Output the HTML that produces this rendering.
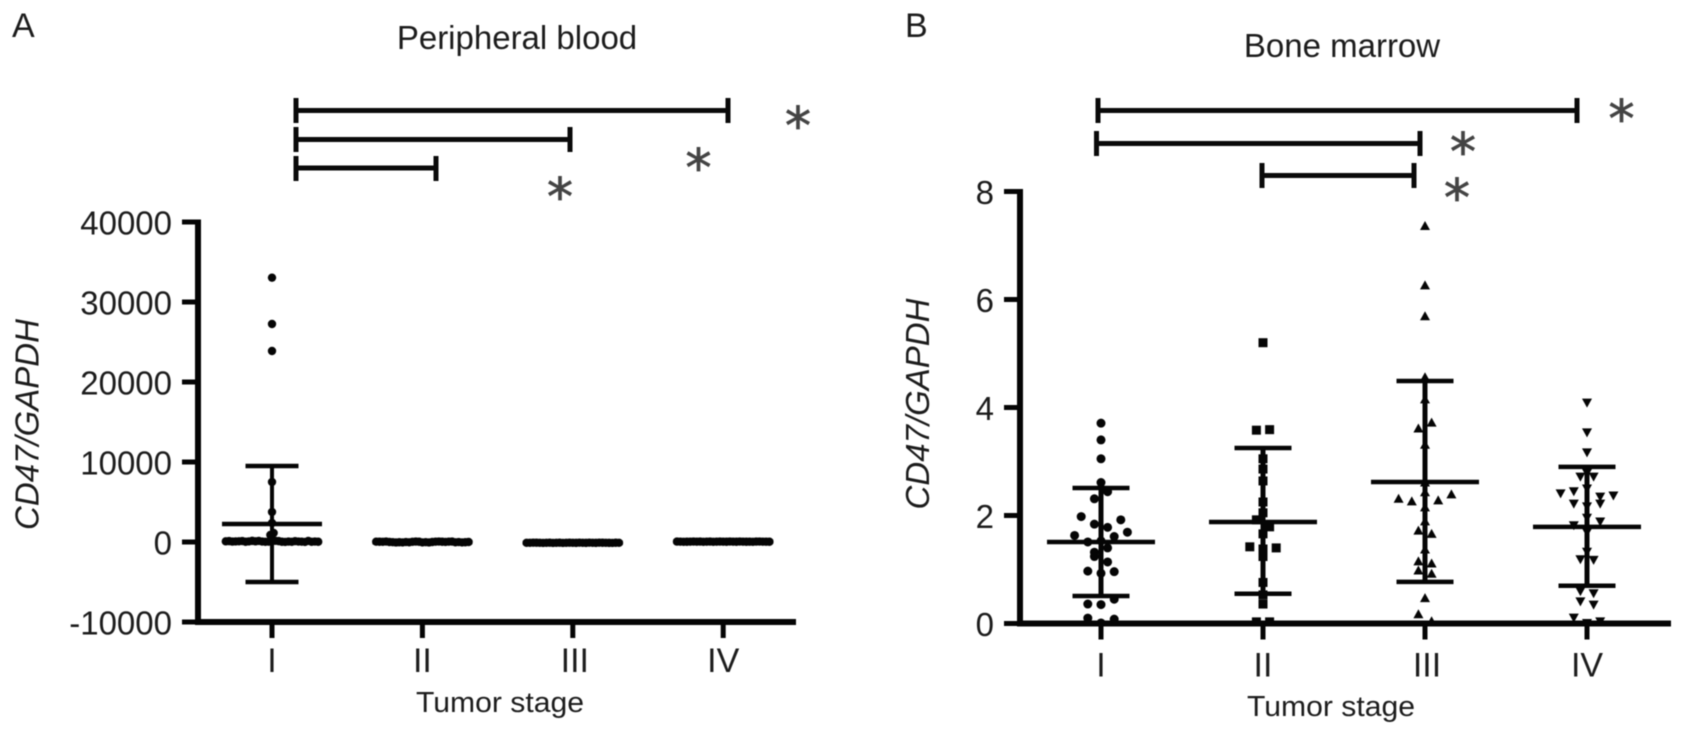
<!DOCTYPE html>
<html lang="en">
<head>
<meta charset="utf-8">
<title>CD47/GAPDH by tumor stage</title>
<style>
html,body{margin:0;padding:0;background:#fff;}
body{width:1683px;height:756px;overflow:hidden;}
svg{display:block;filter:blur(0.6px);}
text{font-family:"Liberation Sans",sans-serif;fill:#1c1c1c;}
.star{font-family:"DejaVu Sans",sans-serif;font-size:52px;fill:#444;stroke:#444;stroke-width:0.8;text-anchor:middle;}
.ylab{font-style:italic;font-size:33px;text-anchor:middle;}
.title{font-size:33px;text-anchor:middle;}
.letter{font-size:34px;}
.xtitle{font-size:29px;}
.br{stroke:#0a0a0a;stroke-width:5;fill:none;}
</style>
</head>
<body>
<svg id="chart" xmlns="http://www.w3.org/2000/svg" width="1683" height="756" viewBox="0 0 1683 756">
  <rect x="0" y="0" width="1683" height="756" fill="#fff"/>
  <text class="letter" x="12" y="37">A</text>
  <text class="letter" x="905" y="37">B</text>
  <text class="title" x="517" y="49">Peripheral blood</text>
  <text class="title" x="1342" y="57">Bone marrow</text>
  <text class="ylab" transform="translate(38.500,424.500) rotate(-90)">CD47/GAPDH</text>
  <text class="ylab" transform="translate(929,404) rotate(-90)">CD47/GAPDH</text>
  <text class="xtitle" x="416" y="712" textLength="168" lengthAdjust="spacingAndGlyphs">Tumor stage</text>
  <text class="xtitle" x="1247" y="716" textLength="168" lengthAdjust="spacingAndGlyphs">Tumor stage</text>

  <g>
    <path class="br" d="M296 98V123M296 110.500H728M728 98V123"/>
    <path class="br" d="M296 127V152M296 139.500H570M570 127V152"/>
    <path class="br" d="M296 156V181M296 168H436M436 156V181"/>
    <text class="star" x="798" y="144">*</text>
    <text class="star" x="698.500" y="186">*</text>
    <text class="star" x="560" y="215">*</text>
  </g>
  <g>
    <path class="br" d="M1098 98V123M1098 110.500H1577M1577 98V123"/>
    <path class="br" d="M1096.500 131V156M1096.500 143.500H1420M1420 131V156"/>
    <path class="br" d="M1262 163V188M1262 175.500H1414M1414 163V188"/>
    <text class="star" x="1621.500" y="137">*</text>
    <text class="star" x="1463" y="170">*</text>
    <text class="star" x="1457" y="216">*</text>
  </g>
  <g id="panelA"></g>
  <g id="panelB"></g>
</svg>
<script>
// ---- Shared category labels ----
const stageLabels = ['I', 'II', 'III', 'IV'];

// ---- Panel A: peripheral blood ----
const bloodTicks = [-10000, 0, 10000, 20000, 30000, 40000];
const bloodOutliersI = [33040, 27250, 23875, 7500, 3750, 2375, 875, 1125];
const bloodClusterI = [90, 40, 150, 20, 110, 60, 30, 130, 10, 80, 50, 140, 20, 70, 100,
  30, 60, 120, 40, 90, 10, 70, 130, 50, 20, 110, 60, 80, 30];
const bloodClusterII = [-50, 30, -20, 50, -60, 20, 0, -40, 40, -10, 60, -50, 30, -30, 10,
  -60, 40, -20, 50, 0, -40, 60, -10, 20, -50, 30, -30, 40, 0];
const bloodClusterIII = [-100, -90, -110, -100, -80, -120, -100, -90, -110, -100, -80, -120, -100, -90, -110,
  -100, -85, -115, -95, -105, -100, -90, -110, -80, -120, -100, -95, -105, -100];
const bloodClusterIV = [40, 50, 30, 40, 60, 20, 40, 50, 30, 40, 60, 20, 40, 50, 30,
  45, 35, 55, 25, 40, 50, 30, 60, 20, 40, 45, 35, 50, 30];
const bloodMeans = [2250, -10, -100, 40];
const bloodUpper = [9500, 60, -60, 80];
const bloodLower = [-5000, -80, -140, 0];

// ---- Panel B: bone marrow ----
const boneTicks = [0, 2, 4, 6, 8];
const boneStageI = [3.71, 3.40, 3.05, 2.61, 2.31, 2.44, 1.84, 1.78, 1.98, 1.92, 1.53, 1.51, 1.61, 1.63, 1.69,
  1.32, 1.40, 1.24, 1.14, 0.93, 0.97, 0.96, 0.35, 0.36, 0.45, 0.01, 0.10, 0.08];
const boneStageII = [5.20, 3.58, 3.59, 3.05, 2.86, 2.64, 2.25, 2.05, 1.92, 1.79, 1.66, 1.38, 1.42, 1.40,
  1.24, 0.76, 0.53, 0.36, 0.03, 0.03];
const boneStageIII = [7.37, 6.27, 5.70, 4.57, 4.16, 3.62, 3.73, 3.32, 2.62, 2.44, 2.27, 2.29, 2.32, 2.40,
  2.16, 1.90, 1.73, 1.67, 1.38, 1.16, 1.12, 0.99, 0.93, 0.48, 0.18, 0.05];
const boneStageIV = [4.08, 3.53, 3.16, 2.78, 2.71, 2.71, 2.49, 2.44, 2.34, 2.40, 2.36, 2.16, 2.21, 2.21,
  1.95, 1.81, 1.88, 1.68, 1.32, 1.18, 1.17, 0.59, 0.55, 0.40, 0.34, 0.00, 0.10, 0.03];
const boneMeans = [1.51, 1.88, 2.62, 1.79];
const boneUpper = [2.51, 3.25, 4.49, 2.90];
const boneLower = [0.51, 0.55, 0.77, 0.70];

const NS = 'http://www.w3.org/2000/svg';
function make(tag, parent) {
  const n = document.createElementNS(NS, tag);
  parent.appendChild(n);
  return n;
}
function line(parent, x1, y1, x2, y2, w, color) {
  const l = make('line', parent);
  l.setAttribute('x1', x1);
  l.setAttribute('y1', y1);
  l.setAttribute('x2', x2);
  l.setAttribute('y2', y2);
  l.setAttribute('stroke', color || '#050505');
  l.setAttribute('stroke-width', w);
  return l;
}
// Prism-style binned swarm: points in one value bin are spread symmetrically
function swarmOffsets(values, binWidth, binShift) {
  const bins = {};
  values.forEach(function (v, i) {
    const b = Math.floor(v / binWidth + binShift + 1e-9);
    (bins[b] = bins[b] || []).push(i);
  });
  const out = new Array(values.length).fill(0);
  Object.keys(bins).forEach(function (b) {
    const idx = bins[b];
    const even = idx.length % 2 === 0;
    idx.forEach(function (pointIndex, r) {
      const mag = even ? Math.floor(r / 2) + 0.5 : Math.ceil(r / 2);
      const sign = even ? (r % 2 === 0 ? -1 : 1) : (r % 2 === 1 ? -1 : 1);
      out[pointIndex] = mag * sign;
    });
  });
  return out;
}
function drawMarker(parent, shape, x, y, size) {
  let m;
  if (shape === 'square') {
    m = make('rect', parent);
    m.setAttribute('x', x - size);
    m.setAttribute('y', y - size);
    m.setAttribute('width', size * 2);
    m.setAttribute('height', size * 2);
  } else if (shape === 'up' || shape === 'down') {
    const d = shape === 'up' ? 1 : -1;
    m = make('polygon', parent);
    m.setAttribute('points', (x - size - 0.5) + ',' + (y + d * size) + ' ' + (x + size + 0.5) + ',' + (y + d * size) + ' ' + x + ',' + (y - d * size));
  } else {
    m = make('circle', parent);
    m.setAttribute('cx', x);
    m.setAttribute('cy', y);
    m.setAttribute('r', size);
  }
  m.setAttribute('fill', '#050505');
  
  
}
function drawPanel(cfg) {
  const root = document.getElementById(cfg.id);
  const xAt = cfg.xAt, yAt = cfg.yAt;

  // y axis
  const yAxis = make('g', root);
  
  
  const top = yAt(cfg.ticks[cfg.ticks.length - 1]);
  const bottom = yAt(cfg.ticks[0]);
  line(yAxis, cfg.axisX, top - 2.5, cfg.axisX, bottom + 3, 6);
  cfg.ticks.forEach(function (t) {
    const tick = line(yAxis, cfg.axisX - 16, yAt(t), cfg.axisX, yAt(t), 5);
    
    
    const label = make('text', yAxis);
    label.setAttribute('x', cfg.axisX - 26);
    label.setAttribute('y', yAt(t) + 12.5);
    label.setAttribute('font-size', '33');
    label.setAttribute('text-anchor', 'end');
    
    
    label.textContent = String(t);
  });

  // x axis
  const xAxis = make('g', root);
  
  
  line(xAxis, cfg.axisX - 2, bottom, cfg.axisEnd, bottom, 6);
  stageLabels.forEach(function (s, i) {
    const tick = line(xAxis, xAt(i), bottom, xAt(i), bottom + 16, 5);
    
    
    const label = make('text', xAxis);
    label.setAttribute('x', xAt(i) + (i === 2 ? 2 : 0));
    label.setAttribute('y', bottom + cfg.xLabelDrop);
    label.setAttribute('font-size', '34');
    label.setAttribute('text-anchor', 'middle');
    
    
    label.textContent = s;
  });

  // series
  cfg.series.forEach(function (values, i) {
    const group = make('g', root);
    
    
    const offsets = swarmOffsets(values, cfg.binWidth, cfg.binShift);
    values.forEach(function (v, k) {
      drawMarker(group, cfg.shapes[i], xAt(i) + offsets[k] * cfg.swarmStep, yAt(v), cfg.markerSize);
    });
    const cx = xAt(i);
    const stem = line(group, cx, yAt(cfg.upper[i]), cx, yAt(cfg.lower[i]), cfg.stemWidth);
    
    
    const capUp = line(group, cx - cfg.capHalf, yAt(cfg.upper[i]), cx + cfg.capHalf, yAt(cfg.upper[i]), 4.5);
    
    
    const capLow = line(group, cx - cfg.capHalf, yAt(cfg.lower[i]), cx + cfg.capHalf, yAt(cfg.lower[i]), 4.5);
    
    
    const mean = line(group, cx - cfg.meanHalf, yAt(cfg.means[i]), cx + cfg.meanHalf, yAt(cfg.means[i]), 4.5);
    
    
  });
}
drawPanel({
  id: 'panelA',
  ticks: bloodTicks,
  series: [bloodOutliersI.concat(bloodClusterI), bloodClusterII, bloodClusterIII, bloodClusterIV],
  means: bloodMeans, upper: bloodUpper, lower: bloodLower,
  xAt: function (i) { return 272 + i * 150.4; },
  yAt: function (v) { return 542 - v * 0.008; },
  axisX: 198, axisEnd: 796, xLabelDrop: 50,
  shapes: ['circle', 'circle', 'circle', 'circle'],
  markerSize: 4.2, binWidth: 1000, binShift: 0.5, swarmStep: 3.3,
  capHalf: 26.5, meanHalf: 50, stemWidth: 4
});
drawPanel({
  id: 'panelB',
  ticks: boneTicks,
  series: [boneStageI, boneStageII, boneStageIII, boneStageIV],
  means: boneMeans, upper: boneUpper, lower: boneLower,
  xAt: function (i) { return 1101 + i * 162; },
  yAt: function (v) { return 623.5 - v * 54; },
  axisX: 1020, axisEnd: 1671, xLabelDrop: 53,
  shapes: ['circle', 'square', 'up', 'down'],
  markerSize: 4.5, binWidth: 0.25, binShift: 0, swarmStep: 13.2,
  capHalf: 28.5, meanHalf: 54, stemWidth: 5
});
</script>
</body>
</html>
